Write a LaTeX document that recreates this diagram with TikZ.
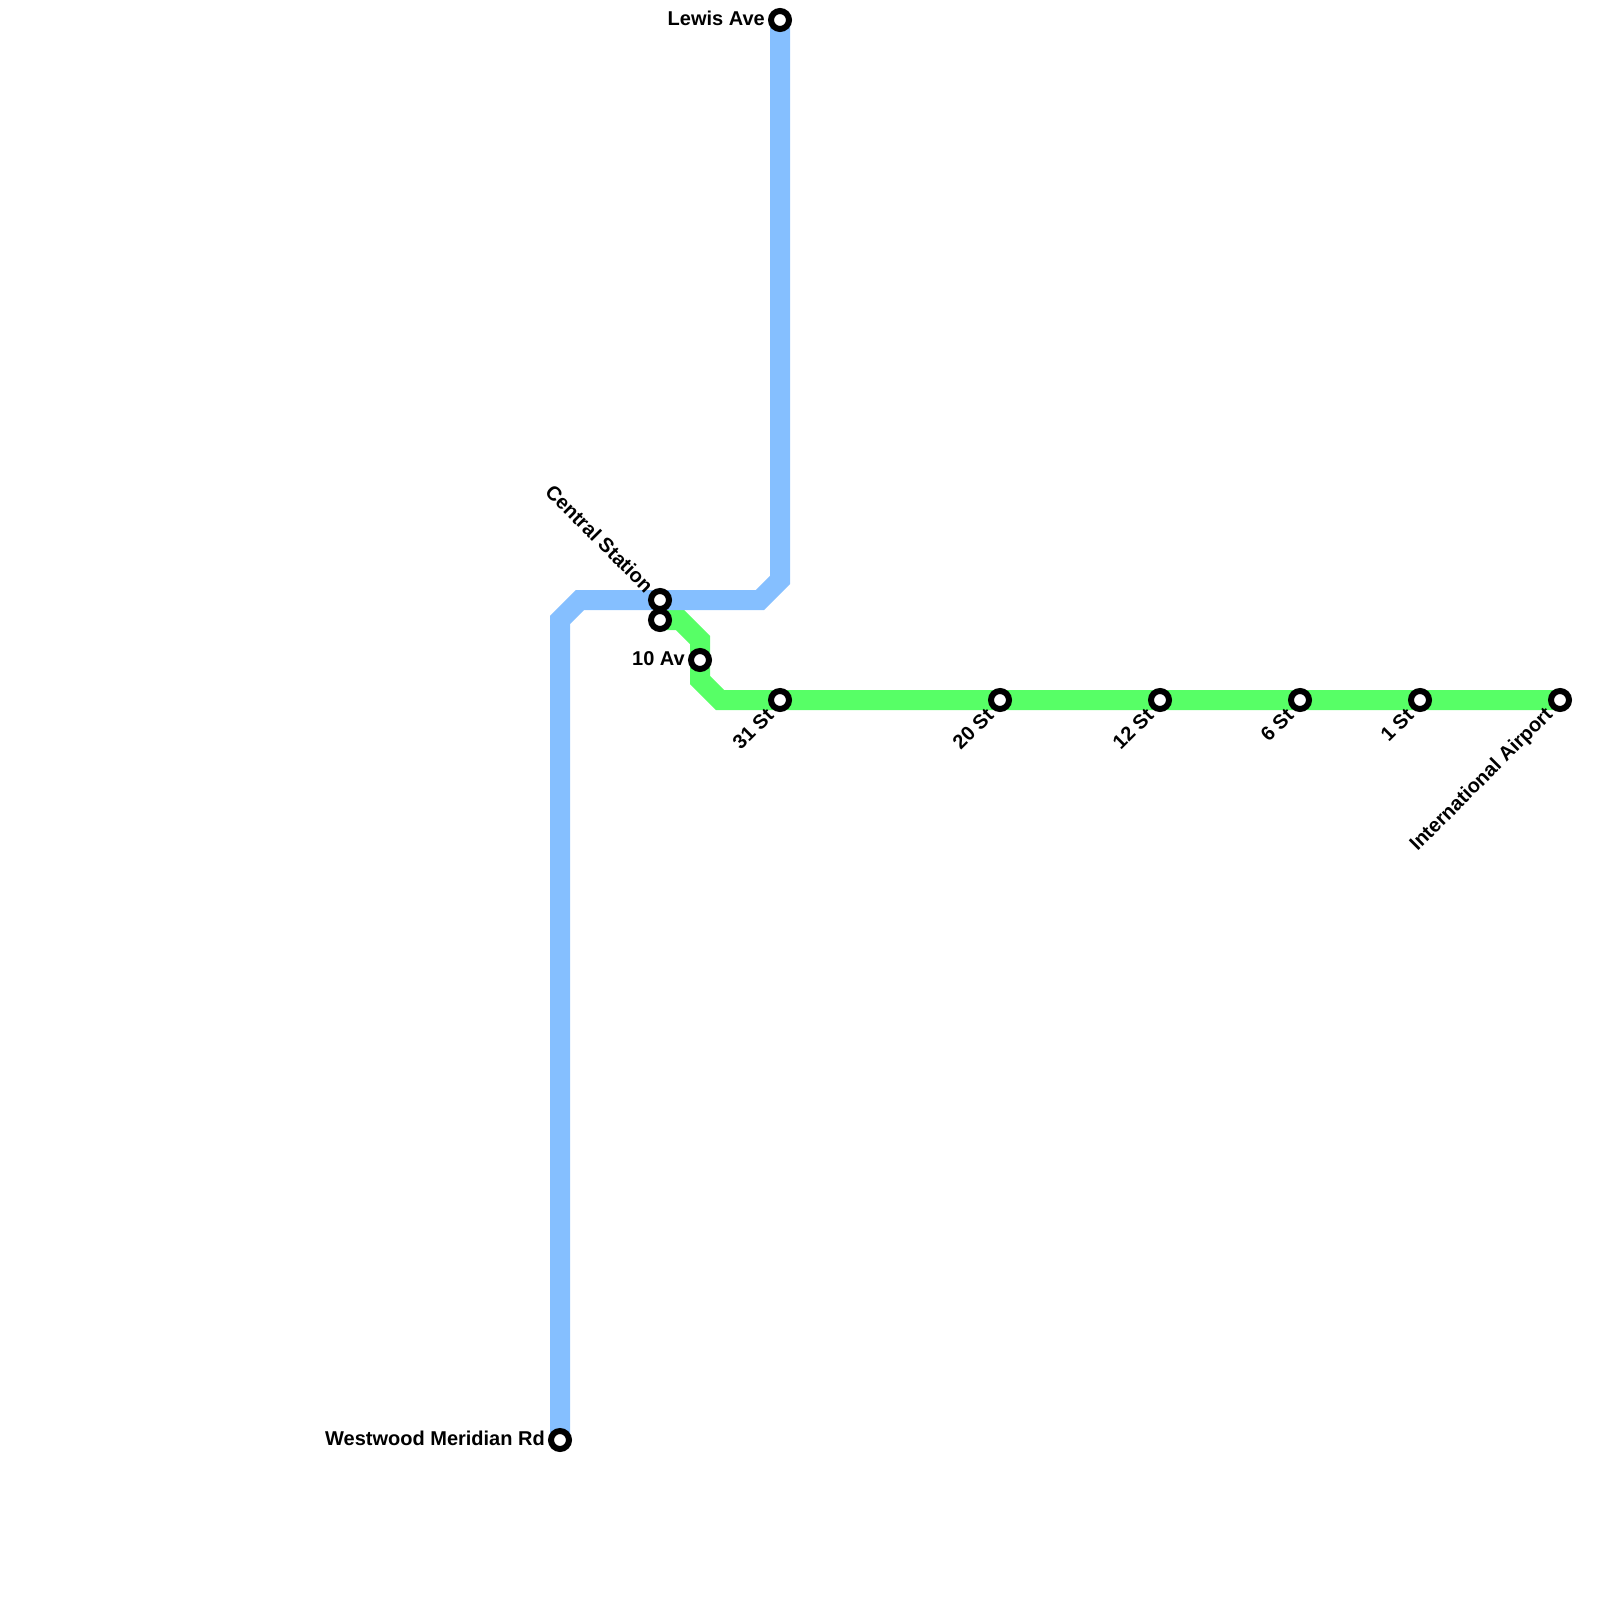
\documentclass[tikz,border=0pt]{standalone}
\usepackage{fontspec}
\setmainfont{Liberation Sans}
\usetikzlibrary{backgrounds}
\tikzset{
    metroline/.style={line width=20pt, line join=miter},
    station/.style={circle, draw=black, fill=white, line width=6pt, minimum size=18pt, inner sep=0pt},
    stlabel/.style={font=\fontsize{20}{22}\selectfont\bfseries, inner sep=0pt, anchor=east},
    downlabel/.style={stlabel, rotate=45},
    uplabel/.style={stlabel, rotate=-45}
}
\definecolor{blueline}{RGB}{133,191,255}
\definecolor{greenline}{RGB}{87,255,102}
\begin{document}
\begin{tikzpicture}[x=1pt, y=-1pt]
    \useasboundingbox (0,0) rectangle (1600,1600);
    % stations
    \node[station] (lewis) at (780,20) {};
    \node[station] (central) at (660,600) {};
    \node[station] (centralb) at (660,620) {};
    \node[station] (tenav) at (700,660) {};
    \node[station] (st31) at (780,700) {};
    \node[station] (st20) at (1000,700) {};
    \node[station] (st12) at (1160,700) {};
    \node[station] (st6) at (1300,700) {};
    \node[station] (st1) at (1420,700) {};
    \node[station] (airport) at (1560,700) {};
    \node[station] (westwood) at (560,1440) {};
    % bends
    \coordinate (b1) at (780,580);
    \coordinate (b2) at (760,600);
    \coordinate (b3) at (580,600);
    \coordinate (b4) at (560,620);
    \coordinate (g1) at (680,620);
    \coordinate (g2) at (700,640);
    \coordinate (g3) at (700,680);
    \coordinate (g4) at (720,700);
    % lines
    \begin{scope}[on background layer]
        \draw[metroline, greenline] (centralb.center) -- (g1) -- (g2) -- (tenav.center) -- (g3) -- (g4) -- (st31.center) -- (st20.center) -- (st12.center) -- (st6.center) -- (st1.center) -- (airport.center);
        \draw[metroline, blueline] (lewis.center) -- (b1) -- (b2) -- (central.center) -- (b3) -- (b4) -- (westwood.center);
    \end{scope}
    % labels
    \node[stlabel] (lewislabel) at ([xshift=-15pt, yshift=1.5pt]lewis.center) {Lewis Ave};
    \node[stlabel] (westwoodlabel) at ([xshift=-15pt, yshift=1.5pt]westwood.center) {Westwood Meridian Rd};
    \node[stlabel] (tenavlabel) at ([xshift=-15pt, yshift=1.5pt]tenav.center) {10 Av};
    \node[uplabel] (centrallabel) at ([xshift=-10pt, yshift=11pt]central.center) {Central Station};
    \node[downlabel] (st31label) at ([xshift=-10pt, yshift=-12pt]st31.center) {31 St};
    \node[downlabel] (st20label) at ([xshift=-10pt, yshift=-12pt]st20.center) {20 St};
    \node[downlabel] (st12label) at ([xshift=-10pt, yshift=-12pt]st12.center) {12 St};
    \node[downlabel] (st6label) at ([xshift=-10pt, yshift=-12pt]st6.center) {6 St};
    \node[downlabel] (st1label) at ([xshift=-10pt, yshift=-12pt]st1.center) {1 St};
    \node[downlabel] (airportlabel) at ([xshift=-10pt, yshift=-12pt]airport.center) {International Airport};
\end{tikzpicture}
\end{document}
